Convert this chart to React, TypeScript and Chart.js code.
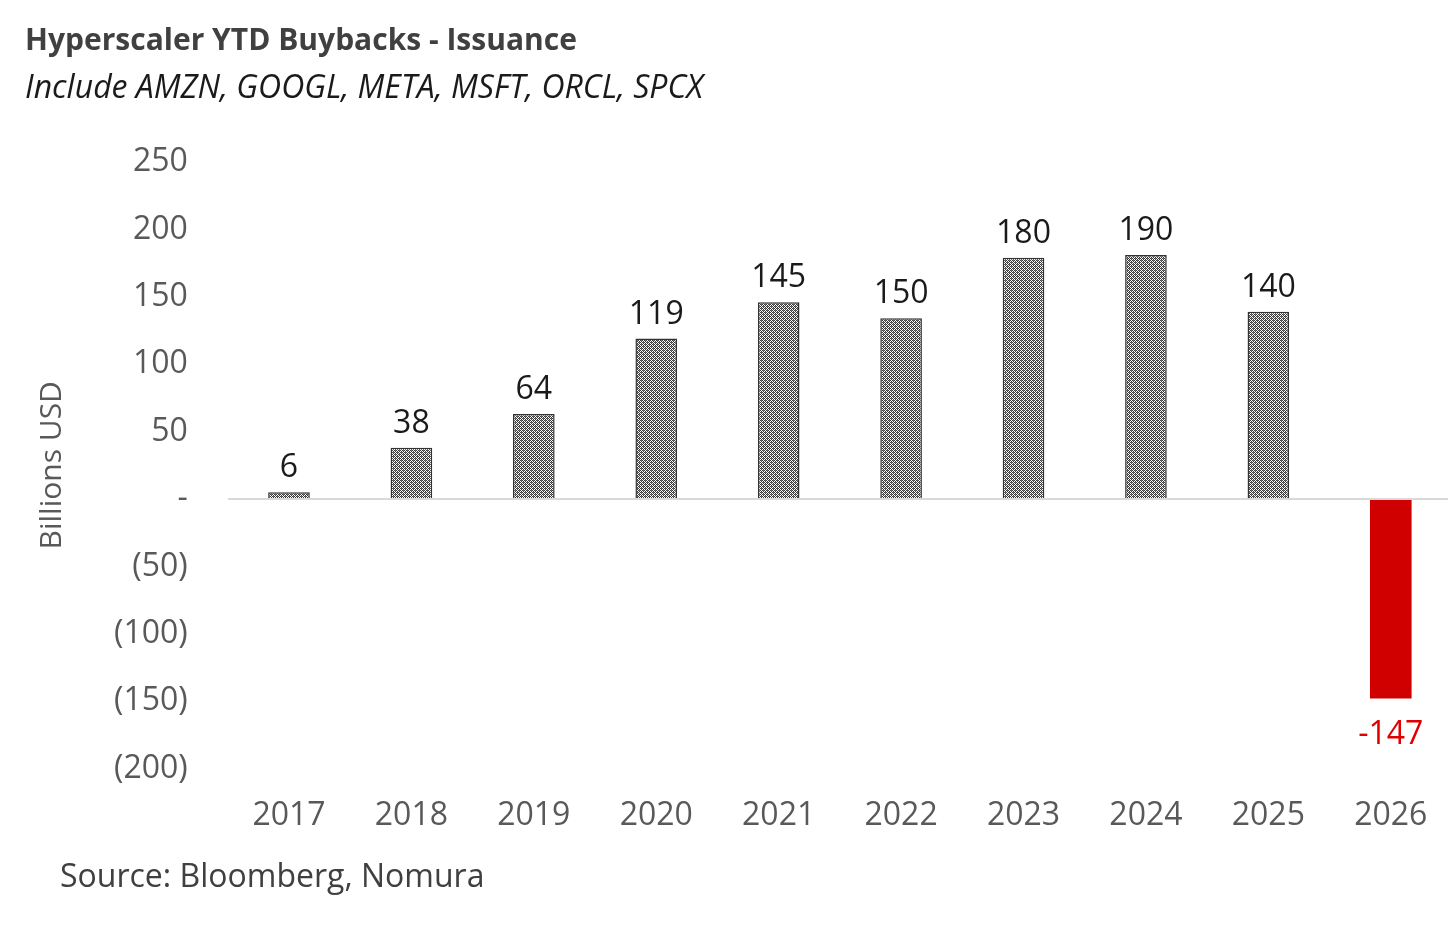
import React, { useEffect, useRef } from "react";
import { Chart, registerables } from "chart.js";
Chart.register(...registerables);

const years = ["2017","2018","2019","2020","2021","2022","2023","2024","2025","2026"];
const values = [5, 38, 63, 119, 146, 134, 179, 181, 139, -148];
const labels = ["6","38","64","119","145","150","180","190","140","-147"];

function makePattern(): CanvasPattern | string {
  const c = document.createElement("canvas");
  c.width = 4; c.height = 4;
  const x = c.getContext("2d");
  if (!x) return "#777";
  x.fillStyle = "#ffffff"; x.fillRect(0, 0, 4, 4);
  x.fillStyle = "#3a3a3a";
  x.fillRect(0, 0, 1, 1); x.fillRect(2, 0, 1, 1); x.fillRect(1, 1, 1, 1); x.fillRect(3, 1, 1, 1);
  x.fillRect(0, 2, 1, 1); x.fillRect(2, 2, 1, 1); x.fillRect(1, 3, 1, 1); x.fillRect(3, 3, 1, 1);
  x.fillStyle = "#777"; x.fillRect(1, 0, 1, 1); x.fillRect(3, 2, 1, 1);
  return x.createPattern(c, "repeat") || "#777";
}

const FONT = "'Open Sans', 'Noto Sans', sans-serif";

export default function App() {
  const ref = useRef<HTMLCanvasElement>(null);
  useEffect(() => {
    if (!ref.current) return;
    const pat = makePattern();
    const labelPlugin = {
      id: "lbls",
      afterDatasetsDraw(chart: any) {
        const ctx = chart.ctx;
        const meta = chart.getDatasetMeta(0);
        ctx.save();
        ctx.font = `32px ${FONT}`;
        ctx.textAlign = "center";
        meta.data.forEach((el: any, i: number) => {
          const v = values[i];
          if (v < 0) { ctx.fillStyle = "#e00000"; ctx.textBaseline = "top"; ctx.fillText(labels[i], el.x, el.y + 20); }
          else { ctx.fillStyle = "#1a1a1a"; ctx.textBaseline = "bottom"; ctx.fillText(labels[i], el.x, el.y - 8); }
        });
        ctx.restore();
      },
    };
    const ch = new Chart(ref.current, {
      type: "bar",
      data: {
        labels: years,
        datasets: [{
          data: values,
          backgroundColor: values.map(v => (v < 0 ? "#d00000" : pat)) as any,
          borderColor: values.map(v => (v < 0 ? "#d00000" : "#333333")),
          borderWidth: values.map(v => (v < 0 ? 0 : 1.5)),
          categoryPercentage: 1,
          barPercentage: 0.34,
        }],
      },
      options: {
        animation: false,
        responsive: false,
        layout: { padding: { top: 162, bottom: 72, left: 30, right: 4 } },
        plugins: { legend: { display: false }, tooltip: { enabled: false } },
        scales: {
          x: {
            position: "bottom",
            grid: { display: false },
            border: { display: false },
            ticks: { color: "#595959", font: { size: 32, family: FONT }, padding: 20 },
          },
          y: {
            min: -200, max: 250,
            grid: { color: (c: any) => (c.tick && c.tick.value === 0 ? "#d9d9d9" : "transparent"), lineWidth: 2, drawTicks: false },
            border: { display: false },
            ticks: {
              stepSize: 50, color: "#595959", padding: 40,
              font: { size: 32, family: FONT },
              callback: (v: any) => (v === 0 ? "-" : v < 0 ? `(${-v})` : `${v}`),
            },
            title: { display: true, text: "Billions USD", color: "#595959", font: { size: 30, family: FONT } },
          },
        },
      },
      plugins: [labelPlugin],
    });
    return () => ch.destroy();
  }, []);
  return (
    <div style={{ position: "relative", width: 1456, height: 927, margin: -8, background: "#fff", fontFamily: FONT }}>
      <canvas ref={ref} width={1456} height={927} style={{ position: "absolute", left: 0, top: 0 }} />
      <div style={{ position: "absolute", left: 25, top: 18, fontSize: 30, fontWeight: "bold", color: "#404040" }}>Hyperscaler YTD Buybacks - Issuance</div>
      <div style={{ position: "absolute", left: 25, top: 64, fontSize: 32, fontStyle: "italic", color: "#1a1a1a" }}>Include AMZN, GOOGL, META, MSFT, ORCL, SPCX</div>
      <div style={{ position: "absolute", left: 60, top: 853, fontSize: 32, color: "#404040" }}>Source: Bloomberg, Nomura</div>
    </div>
  );
}
